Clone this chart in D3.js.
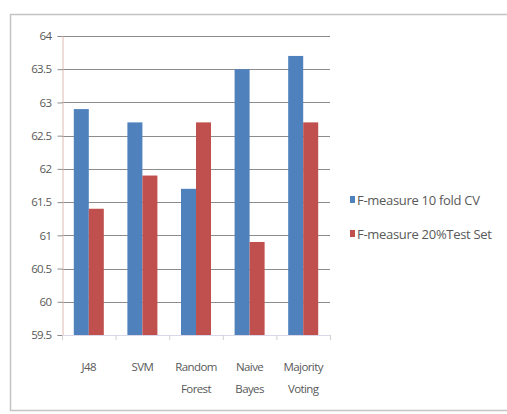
<!DOCTYPE html>
<html>
<head>
<meta charset="utf-8">
<script src="https://cdn.jsdelivr.net/npm/d3@7"></script>
<style>
  html, body { margin: 0; padding: 0; background: #fff; }
  svg { display: block; }
  text { font-family: "Open Sans", "Liberation Sans", sans-serif; }
</style>
</head>
<body>
<script>
// Classifiers on the x axis (each label may wrap onto two lines)
const categories = ["J48", "SVM", "Random Forest", "Naive Bayes", "Majority Voting"];
const categoryLines = [["J48"], ["SVM"], ["Random", "Forest"], ["Naive", "Bayes"], ["Majority", "Voting"]];
// F-measure scores per classifier
const seriesNames = ["F-measure 10 fold CV", "F-measure 20%Test Set"];
const cvValues = [62.9, 62.7, 61.7, 63.5, 63.7];
const testValues = [61.4, 61.9, 62.7, 60.9, 62.7];
const yTicks = [59.5, 60, 60.5, 61, 61.5, 62, 62.5, 63, 63.5, 64];
const colors = ["#4F81BD", "#C0504D"];

const W = 507, H = 414;
const plot = { left: 62, right: 330, top: 36, bottom: 335 };

const svg = d3.select("body").append("svg").attr("width", W).attr("height", H);

// Chart area frame
svg.append("rect")
  .attr("x", 10.5).attr("y", 14.5)
  .attr("width", W + 10).attr("height", 396)
  .attr("fill", "#fff")
  .attr("stroke", "#c4c4c4").attr("stroke-width", 1.5);

const x0 = d3.scaleBand().domain(categories).range([plot.left, plot.right])
  .paddingInner(0.44).paddingOuter(0.22);
const x1 = d3.scaleBand().domain(seriesNames).range([0, x0.bandwidth()]);
const y = d3.scaleLinear().domain([59.5, 64]).range([plot.bottom, plot.top]);

// Horizontal gridlines
svg.append("g").selectAll("line").data(yTicks).join("line")
  .attr("x1", plot.left).attr("x2", plot.right)
  .attr("y1", d => Math.round(y(d)) + 0.5).attr("y2", d => Math.round(y(d)) + 0.5)
  .attr("stroke", "#8c8c8c").attr("stroke-width", 1);

// Y axis
const yAxis = svg.append("g")
  .attr("transform", `translate(${plot.left + 0.5},0)`)
  .call(d3.axisLeft(y).tickValues(yTicks).tickSize(5).tickPadding(6).tickFormat(d3.format("")));
yAxis.select(".domain").attr("stroke", "#e0b8b0");
yAxis.selectAll(".tick line").attr("stroke", "#8c8c8c");
yAxis.selectAll("text").attr("fill", "#595959").attr("font-size", 11.5)
  .attr("font-family", "'Open Sans', sans-serif").attr("letter-spacing", -0.6);

// Bars
const rows = categories.map((c, i) => ({ cat: c, vals: [cvValues[i], testValues[i]] }));
const groups = svg.append("g").selectAll("g").data(rows).join("g")
  .attr("transform", d => `translate(${x0(d.cat)},0)`);
groups.selectAll("rect").data(d => d.vals.map((v, k) => ({ v, k })))
  .join("rect")
  .attr("x", d => x1(seriesNames[d.k]))
  .attr("width", x1.bandwidth())
  .attr("y", d => y(d.v))
  .attr("height", d => y(59.5) - y(d.v))
  .attr("fill", d => colors[d.k]);

// X axis line with ticks between categories
const xAxis = svg.append("g");
xAxis.append("line")
  .attr("x1", plot.left).attr("x2", plot.right)
  .attr("y1", plot.bottom + 0.5).attr("y2", plot.bottom + 0.5)
  .attr("stroke", "#d8d8e8");
xAxis.selectAll("line.tick").data(d3.range(categories.length + 1)).join("line")
  .attr("class", "tick")
  .attr("x1", i => plot.left + i * (plot.right - plot.left) / categories.length + 0.5)
  .attr("x2", i => plot.left + i * (plot.right - plot.left) / categories.length + 0.5)
  .attr("y1", plot.bottom).attr("y2", plot.bottom + 5)
  .attr("stroke", "#d0d0d0");

// Category labels
const labels = svg.append("g").selectAll("text").data(categories).join("text")
  .attr("text-anchor", "middle")
  .attr("fill", "#595959").attr("font-size", 11.5).attr("letter-spacing", -0.6)
  .attr("transform", d => `translate(${x0(d) + x0.bandwidth() / 2},371)`);
labels.selectAll("tspan").data((d, i) => categoryLines[i]).join("tspan")
  .attr("x", 0).attr("dy", (d, j) => j === 0 ? 0 : 22)
  .text(d => d);

// Legend
const legend = svg.append("g").selectAll("g").data(seriesNames).join("g")
  .attr("transform", (d, i) => `translate(350,${200 + i * 34})`);
legend.append("rect")
  .attr("x", 0).attr("y", -4).attr("width", 5).attr("height", 7)
  .attr("fill", (d, i) => colors[i]);
legend.append("text")
  .attr("x", 7).attr("y", 4.5)
  .attr("fill", "#595959").attr("font-size", 13).attr("letter-spacing", -0.3)
  .text(d => d);
</script>
</body>
</html>
